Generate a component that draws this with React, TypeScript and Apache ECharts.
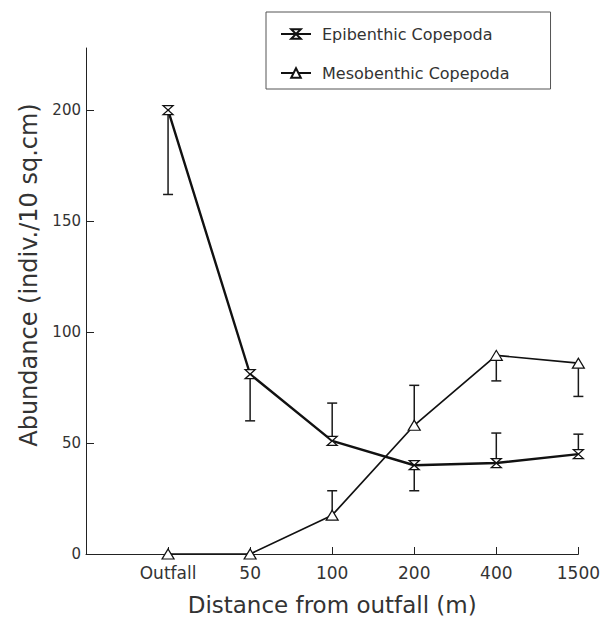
import React, { useEffect, useRef } from "react";
import * as echarts from "echarts";

// ---- data ----
const xTickLabels = ["", "Outfall", "50", "100", "200", "400", "1500"];
const epiNames = "Epibenthic Copepoda";
const mesoNames = "Mesobenthic Copepoda";
const yTitle = "Abundance (indiv./10 sq.cm)";
const xTitle = "Distance from outfall (m)";
// values at category positions 1..6 (Outfall .. 1500)
const epiValues = [200, 81, 51, 40, 41, 45];
const mesoValues = [0, 0, 17.5, 58, 89.5, 86];
// end point of the (one-sided) error bars; null = no bar
const epiErrEnd = [162, 60, 68, 28.5, 54.5, 54];
const mesoErrEnd = [null, null, 28.5, 76, 78, 71];
const yTicks = [0, 50, 100, 150, 200];

const HOURGLASS = "path://M0,0 L10,0 L0,9 L10,9 Z";

export default function App() {
  const ref = useRef<HTMLDivElement>(null);

  useEffect(() => {
    if (!ref.current) return;
    const chart = echarts.init(ref.current, null, { renderer: "svg" });
    const font = "DejaVu Sans";
    const textColor = "#333";
    const axisColor = "#222";

    const epiData = epiValues.map((v, i) => [i + 1, v]);
    const mesoData = mesoValues.map((v, i) => [i + 1, v]);
    const errData: number[][] = [];
    epiErrEnd.forEach((e, i) => {
      if (e !== null) errData.push([i + 1, epiValues[i], e]);
    });
    mesoErrEnd.forEach((e, i) => {
      if (e !== null) errData.push([i + 1, mesoValues[i], e as number]);
    });

    chart.setOption({
      animation: false,
      backgroundColor: "#fff",
      textStyle: { fontFamily: font },
      grid: { left: 86, right: 24, top: 48, bottom: 64, containLabel: false },
      graphic: [
        {
          type: "text",
          x: 29,
          y: 275,
          rotation: Math.PI / 2,
          style: {
            text: yTitle,
            fontSize: 24,
            fontFamily: font,
            fill: textColor,
            align: "center",
            verticalAlign: "middle",
          },
        },
      ],
      legend: {
        orient: "vertical",
        left: 266,
        top: 12,
        data: [epiNames, mesoNames],
        itemWidth: 30,
        itemHeight: 12,
        itemGap: 23,
        padding: [14, 41, 8, 14],
        borderColor: "#555",
        borderWidth: 1,
        textStyle: { fontFamily: font, fontSize: 16, color: textColor, padding: [0, 0, 0, 6] },
      },
      xAxis: {
        type: "category",
        data: xTickLabels,
        boundaryGap: false,
        axisLine: { lineStyle: { color: axisColor, width: 1 } },
        axisTick: { inside: true, length: 7, lineStyle: { color: axisColor } },
        axisLabel: { fontSize: 17, color: textColor, margin: 10, fontFamily: font },
        splitLine: { show: false },
        name: xTitle,
        nameLocation: "middle",
        nameGap: 39,
        nameTextStyle: { fontSize: 23, color: textColor, fontFamily: font },
      },
      yAxis: {
        type: "value",
        min: 0,
        max: 228,
        interval: 50,
        axisLine: { show: true, lineStyle: { color: axisColor, width: 1 } },
        axisTick: { show: true, inside: true, length: 8, lineStyle: { color: axisColor } },
        axisLabel: {
          fontSize: 15,
          color: textColor,
          margin: 5,
          fontFamily: font,
          showMaxLabel: false,
          formatter: (v: number) => (yTicks.includes(v) ? String(v) : ""),
        },
        splitLine: { show: false },
      },
      series: [
        {
          type: "custom",
          name: "err",
          z: 1,
          silent: true,
          data: errData,
          encode: { x: 0, y: [1, 2] },
          renderItem: (_p: any, api: any) => {
            const x = api.value(0);
            const a = api.coord([x, api.value(1)]);
            const b = api.coord([x, api.value(2)]);
            const style = { stroke: "#1a1a1a", lineWidth: 1.5 };
            return {
              type: "group",
              children: [
                { type: "line", shape: { x1: a[0], y1: a[1], x2: b[0], y2: b[1] }, style },
                { type: "line", shape: { x1: b[0] - 5, y1: b[1], x2: b[0] + 5, y2: b[1] }, style },
              ],
            };
          },
        },
        {
          type: "line",
          name: epiNames,
          z: 3,
          data: epiData,
          symbol: HOURGLASS,
          symbolSize: [10, 9],
          lineStyle: { color: "#111", width: 2.4 },
          itemStyle: { color: "#fff", borderColor: "#111", borderWidth: 1.3 },
        },
        {
          type: "line",
          name: mesoNames,
          z: 3,
          data: mesoData,
          symbol: "triangle",
          symbolSize: [12, 10],
          lineStyle: { color: "#111", width: 1.7 },
          itemStyle: { color: "#fff", borderColor: "#111", borderWidth: 1.2 },
        },
      ],
    });
    return () => chart.dispose();
  }, []);

  return (
    <div
      ref={ref}
      style={{ position: "absolute", left: 0, top: 0, width: 603, height: 621 }}
    />
  );
}
